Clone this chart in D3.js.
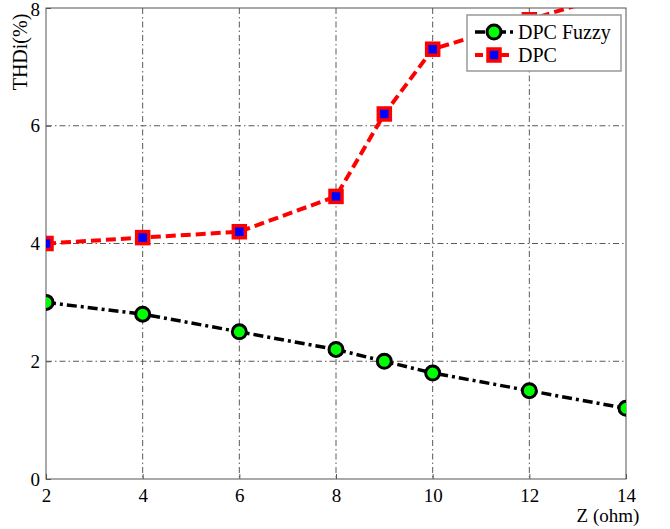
<!DOCTYPE html>
<html><head><meta charset="utf-8">
<script src="https://cdn.jsdelivr.net/npm/d3@7"></script>
<style>body{margin:0;background:#fff}svg{display:block}</style>
</head><body><svg id="c" width="670" height="529"></svg>
<script>
const zValues = [2, 4, 6, 8, 9, 10, 12, 14];
const fuzzyValues = [3.0, 2.8, 2.5, 2.2, 2.0, 1.8, 1.5, 1.2];
const dpcValues = [4.0, 4.1, 4.2, 4.8, 6.2, 7.3, 7.8, 8.3];
const xTicks = [2, 4, 6, 8, 10, 12, 14];
const yTicks = [0, 2, 4, 6, 8];
const seriesNames = ["DPC Fuzzy", "DPC"];

const FONT = '"Liberation Serif", Tinos, "Times New Roman", Times, serif';
const svg = d3.select("#c");
const L = 46, R = 626, T = 8, B = 479;
const x = d3.scaleLinear().domain([2, 14]).range([L, R]);
const y = d3.scaleLinear().domain([0, 8]).range([B, T]);
const gridCol = "#5a5a5a";

// grid
const g = svg.append("g");
g.selectAll(".gx").data(xTicks.slice(1, -1)).join("line")
  .attr("x1", d => x(d)).attr("x2", d => x(d)).attr("y1", T).attr("y2", B)
  .attr("stroke", gridCol).attr("stroke-width", 1).attr("stroke-dasharray", "6,3,1.5,3");
g.selectAll(".gy").data(yTicks.slice(1, -1)).join("line")
  .attr("y1", d => y(d)).attr("y2", d => y(d)).attr("x1", L).attr("x2", R)
  .attr("stroke", gridCol).attr("stroke-width", 1).attr("stroke-dasharray", "6,3,1.5,3");

// axes with inward ticks
const xAxis = svg.append("g").attr("transform", `translate(0,${B})`)
  .call(d3.axisBottom(x).tickValues(xTicks).tickSize(-5).tickPadding(10).tickFormat(d3.format("d")));
const yAxis = svg.append("g").attr("transform", `translate(${L},0)`)
  .call(d3.axisLeft(y).tickValues(yTicks).tickSize(-5).tickPadding(6).tickFormat(d3.format("d")));
[xAxis, yAxis].forEach(a => {
  a.attr("font-family", FONT).attr("font-size", 19);
  a.select(".domain").remove();
  a.selectAll("line").attr("stroke", "#555");
  a.selectAll("text").attr("fill", "#000");
});
yAxis.selectAll("text").filter(d => d === 8).attr("dy", "0.42em");
// frame
svg.append("rect").attr("x", L).attr("y", T).attr("width", R - L).attr("height", B - T)
  .attr("fill", "none").attr("stroke", "#555").attr("stroke-width", 1);

// clip
svg.append("clipPath").attr("id", "clip").append("rect")
  .attr("x", L).attr("y", T).attr("width", R - L).attr("height", B - T);

const line = d3.line().x(d => x(d[0])).y(d => y(d[1]));
const fuzzyData = zValues.map((z, i) => [z, fuzzyValues[i]]);
const dpcData = zValues.map((z, i) => [z, dpcValues[i]]);

const plot = svg.append("g").attr("clip-path", "url(#clip)");
plot.append("path").datum(dpcData).attr("d", line).attr("fill", "none")
  .attr("stroke", "#ff0000").attr("stroke-width", 4).attr("stroke-dasharray", "10,5");
plot.selectAll(".sq").data(dpcData).join("rect")
  .attr("x", d => x(d[0]) - 6).attr("y", d => y(d[1]) - 6).attr("width", 12).attr("height", 12)
  .attr("fill", "#0000ff").attr("stroke", "#ff0000").attr("stroke-width", 3.5);

plot.append("path").datum(fuzzyData).attr("d", line).attr("fill", "none")
  .attr("stroke", "#000").attr("stroke-width", 3.5).attr("stroke-dasharray", "10,4,3,4");
plot.selectAll(".ci").data(fuzzyData).join("circle")
  .attr("cx", d => x(d[0])).attr("cy", d => y(d[1])).attr("r", 7)
  .attr("fill", "#00ff00").attr("stroke", "#000").attr("stroke-width", 3);

// labels
svg.append("text").attr("x", 608).attr("y", 522).attr("text-anchor", "middle")
  .attr("font-family", FONT).attr("font-size", 19).text("Z (ohm)");
svg.append("text").attr("transform", "translate(27,52) rotate(-90)").attr("text-anchor", "middle")
  .attr("font-family", FONT).attr("font-size", 20).text("THDi(%)");

// legend
const lg = svg.append("g");
lg.append("rect").attr("x", 467).attr("y", 15).attr("width", 154).attr("height", 56)
  .attr("fill", "#fff").attr("stroke", "#999").attr("stroke-width", 1.5);
const ly = [32, 55];
lg.append("line").attr("x1", 475).attr("x2", 513).attr("y1", ly[0]).attr("y2", ly[0])
  .attr("stroke", "#000").attr("stroke-width", 3.5).attr("stroke-dasharray", "10,4,3,4");
lg.append("circle").attr("cx", 494).attr("cy", ly[0]).attr("r", 7)
  .attr("fill", "#00ff00").attr("stroke", "#000").attr("stroke-width", 3);
lg.append("line").attr("x1", 475).attr("x2", 513).attr("y1", ly[1]).attr("y2", ly[1])
  .attr("stroke", "#ff0000").attr("stroke-width", 4).attr("stroke-dasharray", "8,5");
lg.append("rect").attr("x", 488).attr("y", ly[1] - 6).attr("width", 12).attr("height", 12)
  .attr("fill", "#0000ff").attr("stroke", "#ff0000").attr("stroke-width", 3.5);
lg.selectAll(".lt").data(seriesNames).join("text")
  .attr("x", 518).attr("y", (d, i) => ly[i] + 7).attr("font-family", FONT).attr("font-size", 20).text(d => d);
</script></body></html>
